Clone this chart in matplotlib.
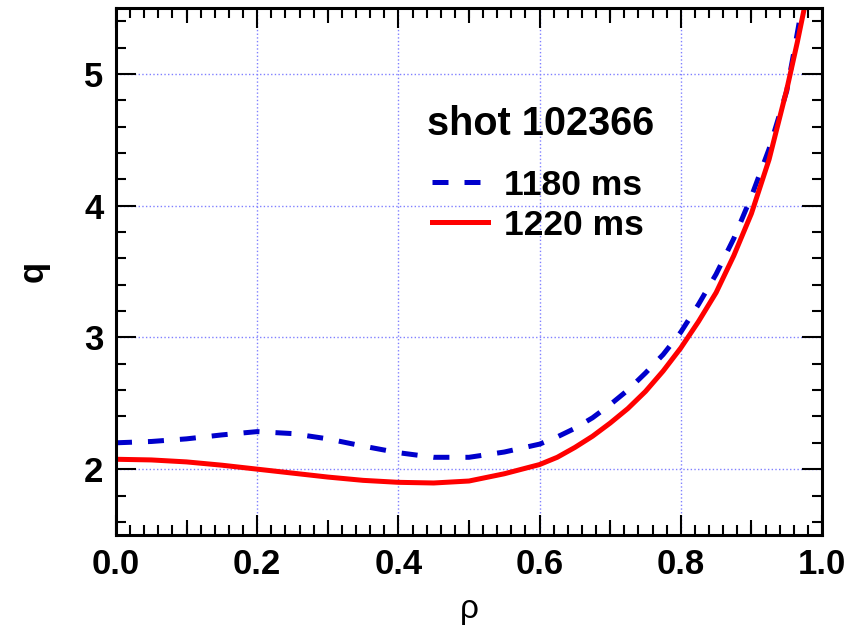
import numpy as np
import matplotlib.pyplot as plt
from matplotlib.ticker import MultipleLocator

plt.rcParams['font.family'] = ['Liberation Sans', 'DejaVu Sans']

# q profiles vs normalised radius
rho_1180 = [0.0, 0.05, 0.1, 0.15, 0.2, 0.25, 0.3, 0.35, 0.4, 0.45, 0.5, 0.55,
            0.6, 0.625, 0.65, 0.675, 0.7, 0.725, 0.75, 0.775, 0.8, 0.825,
            0.85, 0.875, 0.9, 0.925, 0.95, 0.96, 0.97, 0.98]
q_1180 = [2.20, 2.21, 2.23, 2.26, 2.285, 2.27, 2.23, 2.175, 2.125, 2.09, 2.09,
          2.13, 2.19, 2.245, 2.31, 2.39, 2.49, 2.60, 2.73, 2.87, 3.04, 3.25,
          3.48, 3.75, 4.07, 4.43, 4.87, 5.16, 5.46, 5.75]

rho_1220 = [0.0, 0.05, 0.1, 0.15, 0.2, 0.25, 0.3, 0.35, 0.4, 0.45, 0.5, 0.55,
            0.6, 0.625, 0.65, 0.675, 0.7, 0.725, 0.75, 0.775, 0.8, 0.825,
            0.85, 0.875, 0.9, 0.925, 0.95, 0.965, 0.975, 0.985]
q_1220 = [2.075, 2.07, 2.055, 2.03, 2.0, 1.97, 1.94, 1.915, 1.90, 1.895, 1.91,
          1.965, 2.035, 2.09, 2.165, 2.25, 2.35, 2.46, 2.59, 2.745, 2.92, 3.12,
          3.34, 3.62, 3.94, 4.35, 4.88, 5.24, 5.5, 5.78]

fig = plt.figure(figsize=(8.63, 6.29), dpi=100)
ax = fig.add_axes([0.1344, 0.1494, 0.8181, 0.8378])

ax.plot(rho_1180, q_1180, color='#0000cc', lw=3.6, dashes=(3.2, 3.2),
        label='1180 ms')
ax.plot(rho_1220, q_1220, color='#ff0000', lw=3.6, label='1220 ms')

ax.set_xlim(0, 1.0)
ax.set_ylim(1.5, 5.5)
ax.xaxis.set_major_locator(MultipleLocator(0.2))
ax.xaxis.set_minor_locator(MultipleLocator(0.02))
ax.yaxis.set_major_locator(MultipleLocator(1))
ax.yaxis.set_minor_locator(MultipleLocator(0.2))
ax.xaxis.set_major_formatter(plt.FormatStrFormatter('%.1f'))

ax.grid(True, which='major', color='#8080ff', ls=':', lw=1.0)
for s in ax.spines.values():
    s.set_linewidth(2.2)
ax.tick_params(which='both', direction='in', top=True, right=True, width=1.5)
ax.tick_params(which='major', length=14.5, labelsize=25, pad=9)
ax.tick_params(which='minor', length=7.5)
for lab in ax.get_xticklabels() + ax.get_yticklabels():
    lab.set_fontweight('bold')

# medium ticks at the odd tenths
for side in ('bottom', 'top'):
    sec = ax.secondary_xaxis(side)
    sec.set_xticks([0.1, 0.3, 0.5, 0.7, 0.9])
    sec.tick_params(direction='in', length=11, width=1.5, labelbottom=False,
                    labeltop=False)
    sec.spines[side].set_visible(False)

ax.set_xlabel('ρ', fontsize=24)
ax.xaxis.set_label_coords(0.501, -0.112)
ax.set_ylabel('q', fontsize=25, fontweight='bold')
ax.yaxis.set_label_coords(-0.094, 0.5)

ax.text(0.602, 0.759, 'shot 102366', transform=ax.transAxes, ha='center',
        va='baseline', fontsize=28.5, fontweight='bold')
ax.legend(loc='upper left', bbox_to_anchor=(0.447, 0.695),
          frameon=False, handlelength=1.6, handletextpad=0.45,
          labelspacing=0.2, borderpad=0, borderaxespad=0,
          prop={'size': 25.5, 'weight': 'bold'})

fig.savefig('out.png', dpi=100)
